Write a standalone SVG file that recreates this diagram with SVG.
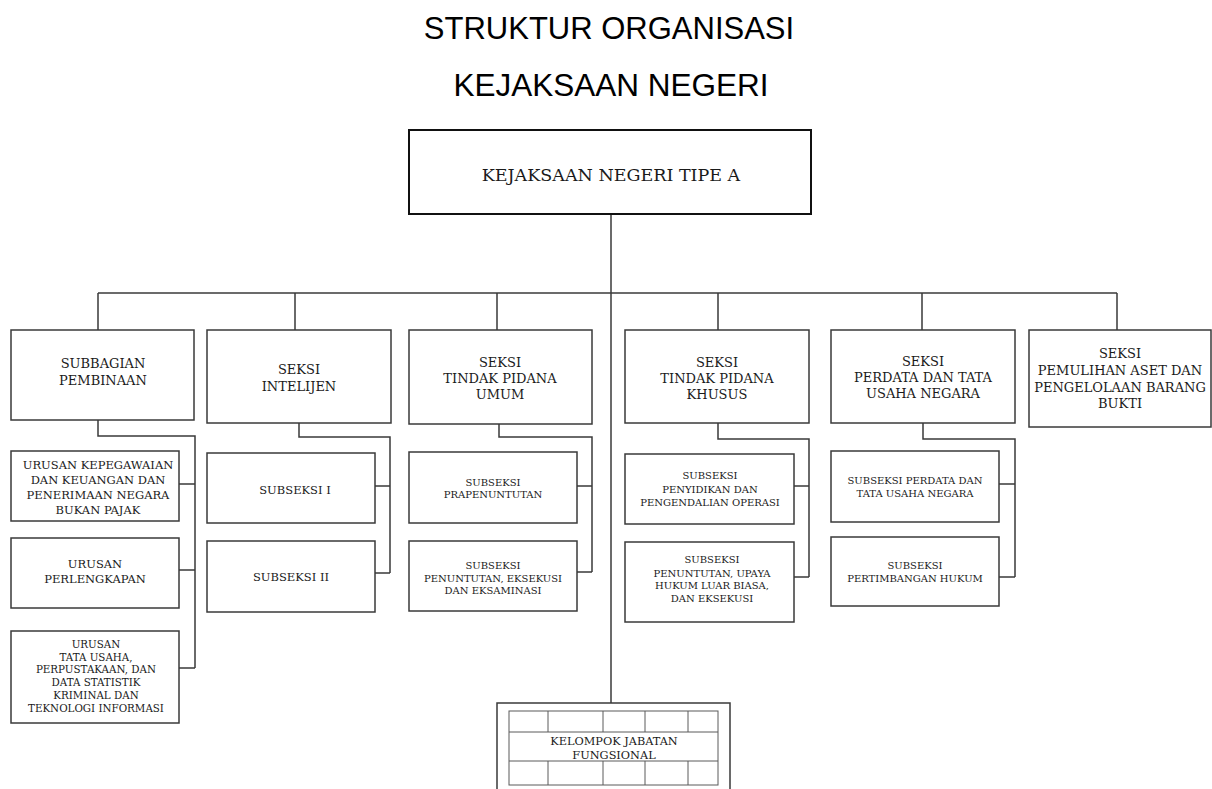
<svg xmlns="http://www.w3.org/2000/svg" width="1212" height="789" viewBox="0 0 1212 789">
<style>
.bg{fill:#ffffff}
.box{fill:#ffffff;stroke:#3a3a3a;stroke-width:1.5}
.main{fill:#ffffff;stroke:#111111;stroke-width:2}
.ln{fill:none;stroke:#3a3a3a;stroke-width:1.5}
.grid{fill:none;stroke:#5a5a5a;stroke-width:1}
.title{font-family:"Liberation Sans",Arial,sans-serif;fill:#000;text-anchor:middle}
.t{font-family:"DejaVu Serif","Liberation Serif",serif;fill:#1a1a1a;text-anchor:middle}
.s17{font-size:17.5px}
.s13{font-size:13px}
.s115{font-size:11.5px}
.s10{font-size:10px}
.s103{font-size:10.3px}
.s11{font-size:11.3px}
</style>
<rect class="bg" x="0" y="0" width="1212" height="789"/>
<g id="title">
<text class="title" x="609" y="39" font-size="31">STRUKTUR ORGANISASI</text>
<text class="title" x="611" y="96" font-size="31.5">KEJAKSAAN NEGERI</text>
</g>
<g id="connectors">
<path class="ln" d="M611,214 V703"/>
<path class="ln" d="M98,293 H1117"/>
<path class="ln" d="M98,293 V330 M295,293 V330 M497,293 V330 M718,293 V330 M922,293 V330 M1117,293 V330"/>
<path class="ln" d="M98,420 V436 H195 V668 M179,484 H195 M179,570 H195 M179,668 H195"/>
<path class="ln" d="M299,423 V437 H390 V573 M375,486 H390 M375,573 H390"/>
<path class="ln" d="M499,424 V437 H592 V572 M577,486 H592 M577,572 H592"/>
<path class="ln" d="M718,423 V439 H809 V577 M794,486 H809 M794,577 H809"/>
<path class="ln" d="M923,423 V439 H1015 V577 M999,484 H1015 M999,577 H1015"/>
</g>
<g id="n-kejari">
<rect class="main" x="409" y="130" width="402" height="84"/>
<text class="t s17" x="611" y="181">KEJAKSAAN NEGERI TIPE A</text>
</g>
<g id="n-subbagian">
<rect class="box" x="11" y="330" width="183" height="90"/>
<text class="t s13" x="103" y="368">SUBBAGIAN</text>
<text class="t s13" x="103" y="385">PEMBINAAN</text>
</g>
<g id="n-intelijen">
<rect class="box" x="207" y="330" width="184" height="93"/>
<text class="t s13" x="299" y="374">SEKSI</text>
<text class="t s13" x="299" y="391">INTELIJEN</text>
</g>
<g id="n-pidum">
<rect class="box" x="409" y="330" width="183" height="94"/>
<text class="t s13" x="500" y="367">SEKSI</text>
<text class="t s13" x="500" y="383">TINDAK PIDANA</text>
<text class="t s13" x="500" y="399">UMUM</text>
</g>
<g id="n-pidsus">
<rect class="box" x="625" y="330" width="184" height="93"/>
<text class="t s13" x="717" y="367">SEKSI</text>
<text class="t s13" x="717" y="383">TINDAK PIDANA</text>
<text class="t s13" x="717" y="399">KHUSUS</text>
</g>
<g id="n-datun">
<rect class="box" x="831" y="330" width="184" height="93"/>
<text class="t s13" x="923" y="366">SEKSI</text>
<text class="t s13" x="923" y="382">PERDATA DAN TATA</text>
<text class="t s13" x="923" y="398">USAHA NEGARA</text>
</g>
<g id="n-pemulihan">
<rect class="box" x="1029" y="330" width="182" height="97"/>
<text class="t s13" x="1120" y="358">SEKSI</text>
<text class="t s13" x="1120" y="375">PEMULIHAN ASET DAN</text>
<text class="t s13" x="1120" y="392">PENGELOLAAN BARANG</text>
<text class="t s13" x="1120" y="408">BUKTI</text>
</g>
<g id="n-urusan-kepeg">
<rect class="box" x="11" y="451" width="168" height="70"/>
<text class="t s115" x="98" y="469">URUSAN KEPEGAWAIAN</text>
<text class="t s115" x="98" y="484">DAN KEUANGAN DAN</text>
<text class="t s115" x="98" y="499">PENERIMAAN NEGARA</text>
<text class="t s115" x="98" y="514">BUKAN PAJAK</text>
</g>
<g id="n-urusan-perlengkapan">
<rect class="box" x="11" y="538" width="168" height="70"/>
<text class="t s115" x="95" y="568">URUSAN</text>
<text class="t s115" x="95" y="583">PERLENGKAPAN</text>
</g>
<g id="n-urusan-tu">
<rect class="box" x="11" y="631" width="168" height="92"/>
<text class="t s103" x="96" y="648">URUSAN</text>
<text class="t s103" x="96" y="661">TATA USAHA,</text>
<text class="t s103" x="96" y="673">PERPUSTAKAAN, DAN</text>
<text class="t s103" x="96" y="686">DATA STATISTIK</text>
<text class="t s103" x="96" y="699">KRIMINAL DAN</text>
<text class="t s103" x="96" y="712">TEKNOLOGI INFORMASI</text>
</g>
<g id="n-subseksi-1">
<rect class="box" x="207" y="453" width="168" height="70"/>
<text class="t s115" x="295" y="494">SUBSEKSI I</text>
</g>
<g id="n-subseksi-2">
<rect class="box" x="207" y="541" width="168" height="71"/>
<text class="t s115" x="291" y="581">SUBSEKSI II</text>
</g>
<g id="n-prapenuntutan">
<rect class="box" x="409" y="452" width="168" height="71"/>
<text class="t s10" x="493" y="486">SUBSEKSI</text>
<text class="t s10" x="493" y="498">PRAPENUNTUTAN</text>
</g>
<g id="n-penuntutan-pidum">
<rect class="box" x="409" y="541" width="168" height="70"/>
<text class="t s10" x="493" y="569">SUBSEKSI</text>
<text class="t s10" x="493" y="582">PENUNTUTAN, EKSEKUSI</text>
<text class="t s10" x="493" y="594">DAN EKSAMINASI</text>
</g>
<g id="n-penyidikan">
<rect class="box" x="625" y="454" width="169" height="70"/>
<text class="t s10" x="710" y="479">SUBSEKSI</text>
<text class="t s10" x="710" y="493">PENYIDIKAN DAN</text>
<text class="t s10" x="710" y="506">PENGENDALIAN OPERASI</text>
</g>
<g id="n-penuntutan-pidsus">
<rect class="box" x="625" y="542" width="169" height="80"/>
<text class="t s10" x="712" y="563">SUBSEKSI</text>
<text class="t s10" x="712" y="577">PENUNTUTAN, UPAYA</text>
<text class="t s10" x="712" y="589">HUKUM LUAR BIASA,</text>
<text class="t s10" x="712" y="602">DAN EKSEKUSI</text>
</g>
<g id="n-subseksi-perdata">
<rect class="box" x="831" y="451" width="168" height="71"/>
<text class="t s10" x="915" y="484">SUBSEKSI PERDATA DAN</text>
<text class="t s10" x="915" y="497">TATA USAHA NEGARA</text>
</g>
<g id="n-pertimbangan">
<rect class="box" x="831" y="537" width="168" height="69"/>
<text class="t s10" x="915" y="569">SUBSEKSI</text>
<text class="t s10" x="915" y="582">PERTIMBANGAN HUKUM</text>
</g>
<g id="n-kelompok">
<path class="ln" d="M497,789 V703 H730 V789"/>
<rect class="grid" x="509" y="711" width="209" height="74"/>
<path class="grid" d="M509,732 H718 M509,761 H718 M548,711 V732 M603,711 V732 M645,711 V732 M688,711 V732 M548,761 V785 M603,761 V785 M645,761 V785 M688,761 V785"/>
<text class="t s11" x="614" y="745">KELOMPOK JABATAN</text>
<text class="t s11" x="614" y="759">FUNGSIONAL</text>
</g>
</svg>
